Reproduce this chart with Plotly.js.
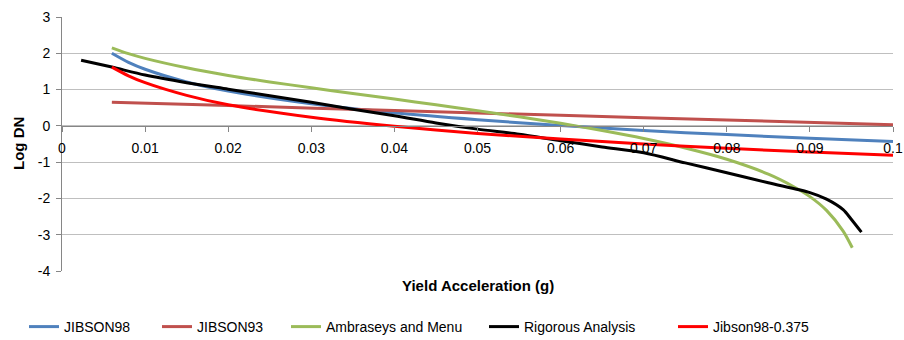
<!DOCTYPE html>
<html>
<head>
<meta charset="utf-8">
<script src="https://cdn.plot.ly/plotly-3.0.1.min.js"></script>
<style>
  html, body { margin: 0; padding: 0; background: #ffffff; }
  #chart { width: 904px; height: 340px; }
</style>
</head>
<body>
<div id="chart"></div>
<script>
// Newmark displacement estimates: log Dn against yield acceleration (g)
const seriesNames = ["JIBSON98", "JIBSON93", "Ambraseys and Menu", "Rigorous Analysis", "Jibson98-0.375"];

const jibson98X = [0.006, 0.008, 0.01, 0.015, 0.02, 0.03, 0.04, 0.05, 0.06, 0.07, 0.08, 0.09, 0.1];
const jibson98Y = [2.00, 1.75, 1.56, 1.21, 0.96, 0.61, 0.36, 0.17, 0.01, -0.13, -0.24, -0.34, -0.43];

const jibson93X = [0.006, 0.02, 0.04, 0.06, 0.08, 0.1];
const jibson93Y = [0.65, 0.56, 0.42, 0.29, 0.16, 0.03];

const ambraseysX = [0.006, 0.008, 0.01, 0.015, 0.02, 0.025, 0.03, 0.035, 0.04, 0.045, 0.05, 0.055, 0.06, 0.065, 0.07, 0.075, 0.08, 0.085, 0.088, 0.09, 0.092, 0.094, 0.0951];
const ambraseysY = [2.15, 1.99, 1.86, 1.60, 1.39, 1.21, 1.05, 0.89, 0.74, 0.58, 0.42, 0.25, 0.07, -0.13, -0.35, -0.61, -0.92, -1.33, -1.67, -1.95, -2.33, -2.90, -3.36];

const rigorousX = [0.0023, 0.006, 0.01, 0.015, 0.02, 0.025, 0.03, 0.035, 0.04, 0.045, 0.05, 0.055, 0.06, 0.065, 0.07, 0.075, 0.08, 0.085, 0.09, 0.092, 0.094, 0.095, 0.0962];
const rigorousY = [1.81, 1.62, 1.40, 1.19, 1.01, 0.83, 0.65, 0.46, 0.28, 0.08, -0.09, -0.23, -0.41, -0.58, -0.74, -1.02, -1.29, -1.57, -1.84, -2.02, -2.31, -2.58, -2.93];

const jibsonSigmaX = [0.006, 0.008, 0.01, 0.015, 0.02, 0.03, 0.04, 0.05, 0.06, 0.07, 0.08, 0.09, 0.1];
const jibsonSigmaY = [1.62, 1.38, 1.19, 0.84, 0.58, 0.24, -0.01, -0.21, -0.36, -0.50, -0.62, -0.72, -0.81];

const xTickVals = [0, 0.01, 0.02, 0.03, 0.04, 0.05, 0.06, 0.07, 0.08, 0.09, 0.1];
const xTickText = ["0", "0.01", "0.02", "0.03", "0.04", "0.05", "0.06", "0.07", "0.08", "0.09", "0.1"];
const yTickVals = [-4, -3, -2, -1, 0, 1, 2, 3];
const yTickText = ["-4", "-3", "-2", "-1", "0", "1", "2", "3"];

const colors = ["#4F81BD", "#C0504D", "#9BBB59", "#000000", "#FF0000"];
const xs = [jibson98X, jibson93X, ambraseysX, rigorousX, jibsonSigmaX];
const ys = [jibson98Y, jibson93Y, ambraseysY, rigorousY, jibsonSigmaY];
const legendIds = ["legend", "legend2", "legend3", "legend4", "legend5"];

const FONT = "'Liberation Sans', Arial, sans-serif";

const traces = seriesNames.map((name, i) => ({
  type: "scatter",
  mode: "lines",
  name: name,
  x: xs[i],
  y: ys[i],
  line: { color: colors[i], width: 3, shape: "spline", smoothing: 0.8 },
  legend: legendIds[i],
  hoverinfo: "skip"
}));

// each legend entry is placed on its own so the row spacing can be set per item
const legendTextLeft = [66, 199, 328, 526, 715];
const plotLeft = 62, plotWidth = 831, plotTop = 17, plotHeight = 254;
const legendYpx = 327;

const layout = {
  width: 904,
  height: 340,
  margin: { l: plotLeft, r: 904 - plotLeft - plotWidth, t: plotTop, b: 340 - plotTop - plotHeight, pad: 0, autoexpand: false },
  paper_bgcolor: "#ffffff",
  plot_bgcolor: "#ffffff",
  font: { family: FONT, size: 14, color: "#000000" },
  showlegend: true,
  xaxis: {
    range: [0, 0.1],
    tickvals: xTickVals,
    ticktext: xTickText,
    anchor: "free",
    position: 4 / 7,
    showline: true,
    linecolor: "#868686",
    linewidth: 1,
    ticks: "outside",
    ticklen: 5,
    tickcolor: "#868686",
    ticklabelstandoff: 4,
    showgrid: false,
    zeroline: false,
    tickfont: { family: FONT, size: 14, color: "#000000" },
    fixedrange: true
  },
  yaxis: {
    range: [-4, 3],
    tickvals: yTickVals,
    ticktext: yTickText,
    showline: true,
    linecolor: "#868686",
    linewidth: 1,
    ticks: "outside",
    ticklen: 5,
    tickcolor: "#868686",
    ticklabelstandoff: 3,
    showgrid: true,
    gridcolor: "#BFBFBF",
    gridwidth: 1,
    zeroline: false,
    tickfont: { family: FONT, size: 14, color: "#000000" },
    fixedrange: true
  },
  annotations: [
    {
      text: "<b>Yield Acceleration (g)</b>",
      xref: "paper", yref: "paper",
      x: 0.5, y: (plotTop + plotHeight - 285) / plotHeight,
      xanchor: "center", yanchor: "middle",
      showarrow: false,
      font: { family: FONT, size: 15, color: "#000000" }
    },
    {
      text: "<b>Log DN</b>",
      xref: "paper", yref: "paper",
      x: (18 - plotLeft) / plotWidth, y: 0.5,
      xanchor: "center", yanchor: "middle",
      textangle: -90,
      showarrow: false,
      font: { family: FONT, size: 15, color: "#000000" }
    }
  ]
};

legendIds.forEach((id, i) => {
  layout[id] = {
    orientation: "h",
    x: (legendTextLeft[i] - 42 - plotLeft) / plotWidth,
    y: (plotTop + plotHeight - legendYpx) / plotHeight,
    xanchor: "left",
    yanchor: "middle",
    bgcolor: "rgba(0,0,0,0)",
    borderwidth: 0,
    font: { family: FONT, size: 14, color: "#000000" },
    itemwidth: 30
  };
});

Plotly.newPlot("chart", traces, layout, { displayModeBar: false, staticPlot: true });
</script>
</body>
</html>
